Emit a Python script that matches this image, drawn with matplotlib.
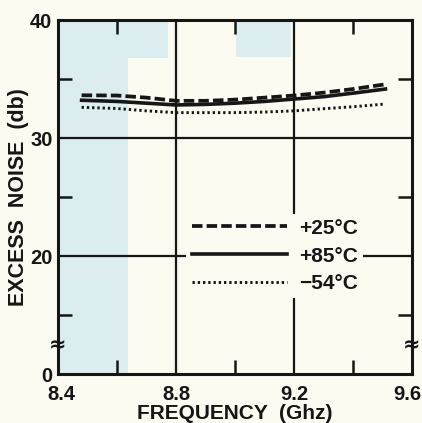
import matplotlib
matplotlib.use("Agg")
import matplotlib.pyplot as plt
from matplotlib.patches import Rectangle
from matplotlib.transforms import ScaledTranslation

# ---- data ----
freq = [8.48, 8.6, 8.7, 8.8, 8.9, 9.0, 9.1, 9.2, 9.3, 9.4, 9.51]
noise_p25 = [33.62, 33.6, 33.42, 33.15, 33.15, 33.25, 33.42, 33.6, 33.84, 34.15, 34.55]
noise_p85 = [33.2, 33.1, 32.95, 32.8, 32.85, 32.95, 33.1, 33.3, 33.5, 33.8, 34.15]
noise_m54 = [32.6, 32.5, 32.3, 32.15, 32.15, 32.15, 32.2, 32.3, 32.48, 32.65, 32.88]
labels = ["+25°C", "+85°C", "\u221254°C"]

x_major = [8.4, 8.8, 9.2, 9.6]
x_major_labels = ["8.4", "8.8", "9.2", "9.6"]
x_minor = [8.6, 9.0, 9.4]
y_major = [10, 20, 30, 40]
y_major_labels = ["0", "20", "30", "40"]
y_minor = [15, 25, 35]

# light blue scan tint regions: (x0, x1, y0, y1) in data units
tints = [(8.4, 8.637, 10, 40), (8.4, 8.773, 36.8, 40), (9.003, 9.19, 36.9, 40)]

BG = "#fbfbf2"
INK = "#161616"
TINT = "#dcedf0"
FONT = "Liberation Sans"

plt.rcParams["font.family"] = [FONT, "DejaVu Sans"]

fig = plt.figure(figsize=(4.22, 4.23), dpi=100, facecolor=BG)
ax = fig.add_axes([58/422, 49/423, 354/422, 354/423])
ax.set_facecolor(BG)
ax.set_xlim(8.4, 9.6)
ax.set_ylim(10, 40)

for x0, x1, y0, y1 in tints:
    ax.add_patch(Rectangle((x0, y0), x1 - x0, y1 - y0, facecolor=TINT,
                           edgecolor="none", zorder=0))

# grid lines
for xv in x_major[1:-1]:
    ax.axvline(xv, color=INK, lw=1.6, zorder=1)
for yv in y_major[1:-1]:
    ax.axhline(yv, color=INK, lw=1.6, zorder=1)

ax.plot(freq, noise_p25, color=INK, lw=2.7, linestyle=(0, (2.8, 1.1)),
        label=labels[0], zorder=3)
ax.plot(freq, noise_p85, color=INK, lw=2.6, linestyle="-",
        label=labels[1], zorder=3)
ax.plot(freq, noise_m54, color=INK, lw=2.1, linestyle=(0, (0.8, 1.0)),
        label=labels[2], zorder=3)

leg = ax.legend(loc="center", bbox_to_anchor=(0.612, 0.3333),
                frameon=True, facecolor=BG, edgecolor="none", framealpha=1,
                handlelength=4.6, handletextpad=0.55,
                labelspacing=0.42, borderpad=0.25, borderaxespad=0,
                prop={"family": FONT, "weight": "bold", "size": 15})
leg.set_zorder(2)
for t in leg.get_texts():
    t.set_color(INK)

# ticks
ax.set_xticks(x_major)
ax.set_xticklabels(x_major_labels)
ax.set_xticks(x_minor, minor=True)
ax.set_yticks(y_major)
ax.set_yticklabels(y_major_labels)
ax.set_yticks(y_minor, minor=True)
ax.tick_params(which="major", length=0, labelsize=14.5, colors=INK)
ax.tick_params(axis="x", which="major", pad=8)
ax.tick_params(axis="y", which="major", pad=4)
ax.tick_params(which="minor", direction="in", length=10, width=1.8,
               top=True, right=True, color=INK)
for lab in ax.get_xticklabels() + ax.get_yticklabels():
    lab.set_fontweight("bold")
# nudge end labels as in the reference
xl = ax.get_xticklabels()
xl[0].set_transform(xl[0].get_transform() + ScaledTranslation(3/100, 0, fig.dpi_scale_trans))
xl[-1].set_transform(xl[-1].get_transform() + ScaledTranslation(-5/100, 0, fig.dpi_scale_trans))

for s in ax.spines.values():
    s.set_linewidth(2.2)
    s.set_color(INK)

# axis break marks
for xa in (0.0, 1.0):
    ax.text(xa, 12.46, "\u2248", transform=ax.get_yaxis_transform(),
            ha="center", va="center", fontsize=15, fontweight="bold",
            color=INK, zorder=5, family="DejaVu Sans")

ax.set_xlabel("FREQUENCY  (Ghz)", fontsize=15, fontweight="bold",
              color=INK, labelpad=0)
ax.set_ylabel("EXCESS  NOISE  (db)", fontsize=15.5, fontweight="bold",
              color=INK, labelpad=1)

fig.savefig("out.png", dpi=100, facecolor=BG)
